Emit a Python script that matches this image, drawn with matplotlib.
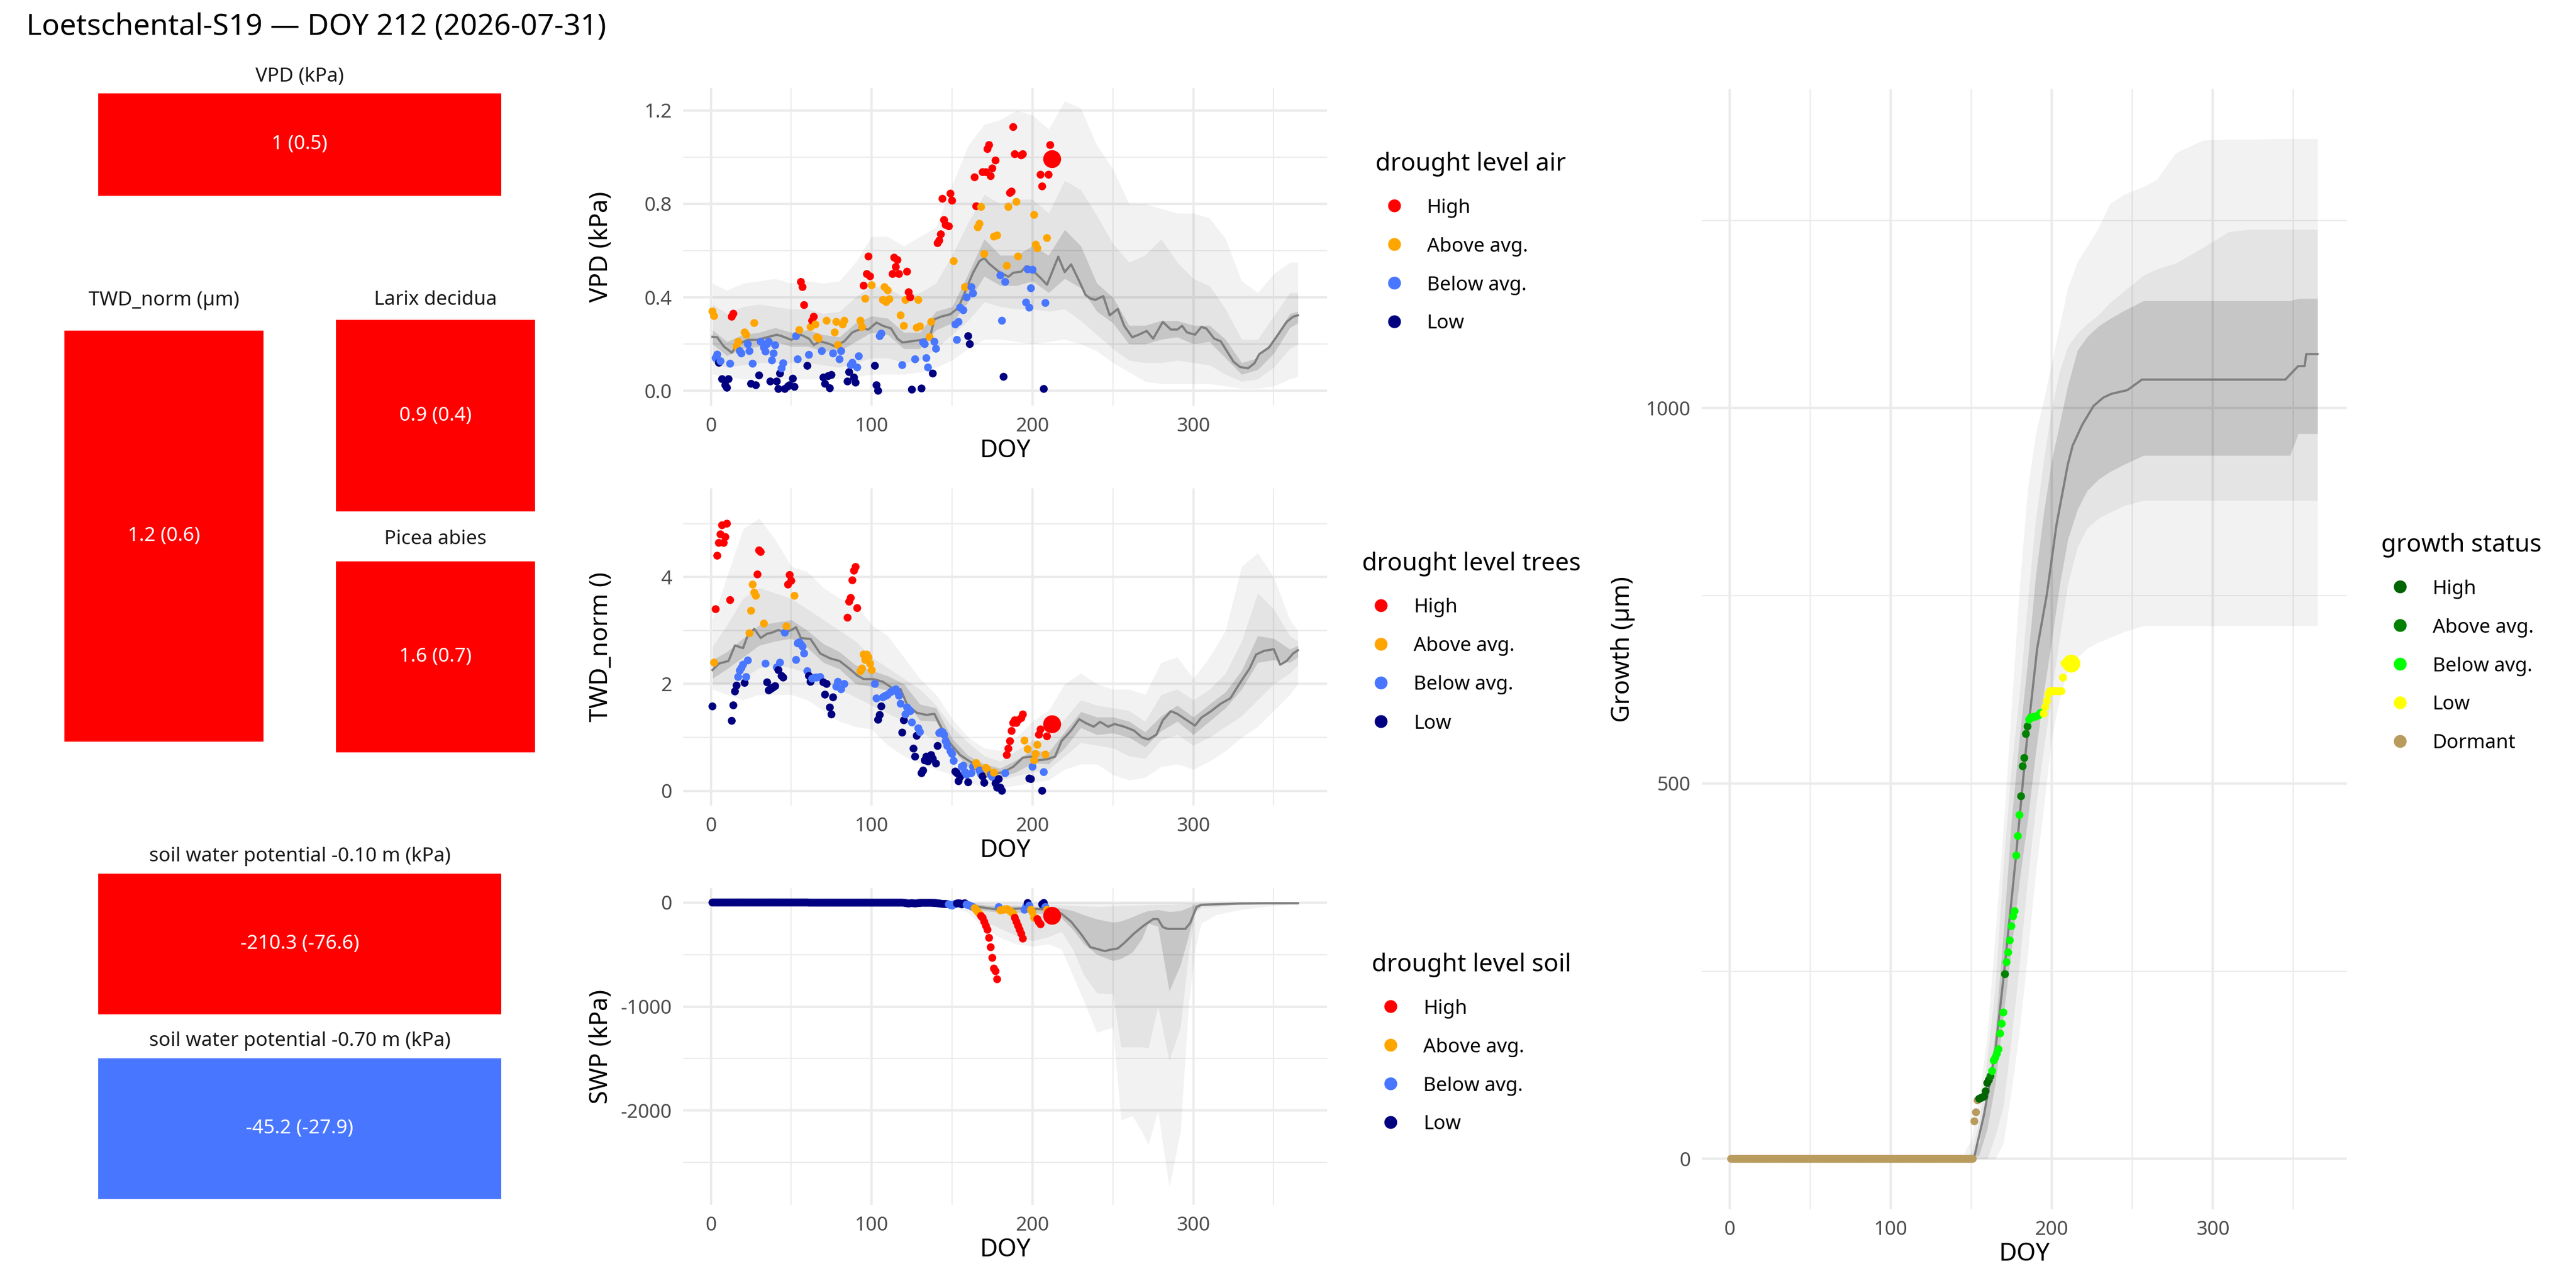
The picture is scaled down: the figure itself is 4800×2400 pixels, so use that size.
import matplotlib
matplotlib.use("Agg")
import matplotlib.pyplot as plt
from matplotlib.ticker import MultipleLocator, FormatStrFormatter

plt.rcParams['font.family'] = ['Noto Sans', 'DejaVu Sans']
plt.rcParams['axes.unicode_minus'] = False

# ---------------------------------------------------------------- data
title = "Loetschental-S19 \u2014 DOY 212 (2026-07-31)"

level_names = ["High", "Above avg.", "Below avg.", "Low"]
level_codes = ["H", "A", "B", "L"]
level_colors = {"H": "#FF0000", "A": "#FFA500", "B": "#4876FF", "L": "#000080"}
growth_names = ["High", "Above avg.", "Below avg.", "Low", "Dormant"]
growth_codes = ["H", "A", "B", "L", "D"]
growth_colors = {"H": "#006400", "A": "#008000", "B": "#00FF00", "L": "#FFFF00", "D": "#B99B5E"}

tile_labels = ["VPD (kPa)", "TWD_norm (\u00b5m)", "Larix decidua", "Picea abies",
               "soil water potential -0.10 m (kPa)", "soil water potential -0.70 m (kPa)"]
tile_value = [1, 1.2, 0.9, 1.6, -210.3, -45.2]
tile_sd = [0.5, 0.6, 0.4, 0.7, -76.6, -27.9]
tile_level = ["H", "H", "H", "H", "H", "B"]

# ---- VPD
vpd_doy = [1, 2, 3, 4, 5, 6, 7, 9, 10, 11,
           12, 13, 14, 16, 17, 18, 19, 21, 22, 23,
           24, 25, 26, 27, 28, 30, 31, 33, 34, 35,
           36, 37, 38, 39, 40, 41, 42, 43, 44, 45,
           46, 48, 49, 51, 52, 53, 54, 55, 56, 57,
           58, 60, 61, 62, 63, 64, 65, 66, 67, 69,
           70, 71, 72, 73, 74, 75, 76, 77, 78, 79,
           80, 81, 82, 83, 85, 86, 87, 88, 89, 90,
           91, 92, 93, 94, 95, 96, 97, 98, 99, 100,
           102, 103, 104, 105, 106, 107, 108, 109, 110, 111,
           113, 114, 115, 116, 117, 118, 119, 120, 121, 122,
           123, 124, 125, 127, 128, 129, 130, 131, 132, 133,
           134, 135, 136, 137, 138, 139, 140, 141, 142, 143,
           144, 145, 146, 148, 149, 150, 151, 152, 153, 154,
           155, 157, 158, 159, 160, 161, 162, 163, 164, 165,
           166, 167, 168, 169, 170, 171, 172, 173, 174, 175,
           176, 177, 178, 180, 181, 182, 183, 184, 185, 186,
           187, 188, 189, 190, 191, 193, 194, 196, 197, 198,
           199, 200, 201, 202, 203, 205, 206, 207, 208, 209,
           210, 211, 212]
vpd_val = [0.34, 0.32, 0.14, 0.155, 0.12, 0.127, 0.05, 0.024, 0.013, 0.05,
           0.116, 0.317, 0.33, 0.19, 0.21, 0.17, 0.16, 0.25, 0.24, 0.20,
           0.17, 0.03, 0.116, 0.29, 0.024, 0.066, 0.21, 0.185, 0.168, 0.20,
           0.21, 0.04, 0.13, 0.16, 0.195, 0.04, 0.008, 0.074, 0.096, 0.118,
           0.008, 0.019, 0.024, 0.052, 0.017, 0.234, 0.135, 0.26, 0.466, 0.444,
           0.367, 0.107, 0.154, 0.273, 0.30, 0.317, 0.284, 0.229, 0.223, 0.17,
           0.057, 0.03, 0.30, 0.063, 0.011, 0.068, 0.16, 0.25, 0.295, 0.196,
           0.135, 0.17, 0.284, 0.30, 0.04, 0.08, 0.11, 0.12, 0.057, 0.035,
           0.10, 0.148, 0.30, 0.273, 0.45, 0.394, 0.50, 0.575, 0.49, 0.452,
           0.107, 0.024, 0.0, 0.234, 0.245, 0.389, 0.444, 0.38, 0.43, 0.392,
           0.50, 0.57, 0.53, 0.56, 0.50, 0.323, 0.11, 0.278, 0.389, 0.51,
           0.422, 0.40, 0.005, 0.135, 0.27, 0.389, 0.276, 0.01, 0.207, 0.20,
           0.14, 0.10, 0.23, 0.295, 0.074, 0.21, 0.18, 0.632, 0.643, 0.67,
           0.822, 0.731, 0.71, 0.704, 0.844, 0.814, 0.555, 0.284, 0.218, 0.295,
           0.356, 0.345, 0.444, 0.40, 0.234, 0.20, 0.444, 0.417, 0.914, 0.79,
           0.70, 0.715, 0.787, 0.936, 0.586, 0.936, 1.035, 1.052, 0.919, 0.952,
           0.66, 0.986, 0.665, 0.494, 0.30, 0.06, 0.466, 0.535, 0.787, 0.847,
           0.853, 1.129, 1.013, 0.809, 0.575, 1.008, 1.013, 0.378, 0.52, 0.356,
           0.439, 0.518, 0.753, 0.626, 0.61, 0.925, 0.875, 0.008, 0.376, 0.654,
           0.925, 1.052, 0.993]
vpd_cat = ("AABBLBLLLL" "BHHAABBAAB" "BLBALLBBBB" "BLBBBLLLBB" "LLLLLBBAHH"
           "HLBAHHAAAB" "LLALLLBAAA" "BBAALLBBLL" "BBAAHAHHHA" "LLLBBAAAAA"
           "HHHHHABAAH" "HHLBAAALBB" "BBAALBBHHH" "HHHHHHABBB" "BBABLLBBHH"
           "AAAHAHHHHH" "AHABBLBAAH" "HHHAAHHBBB" "BBAAAHHLBA" "HHH")

vpd_med_doy = [1, 4, 8, 13, 17, 23, 29, 35, 41, 44, 50, 56, 61, 64, 68, 74, 77, 83, 88, 94,
               98, 103, 107, 112, 116, 119, 125, 131, 136, 139, 143, 149, 154, 158, 163, 167, 170, 173, 179, 185,
               188, 193, 196, 200, 205, 209, 216, 220, 224, 229, 233, 236, 239, 244, 248, 253, 257, 262, 266, 271,
               275, 281, 286, 290, 293, 296, 301, 305, 308, 313, 317, 320, 325, 329, 334, 338, 341, 347, 352, 358,
               362, 365]
vpd_med = [0.231, 0.229, 0.19, 0.163, 0.20, 0.218, 0.218, 0.229, 0.24, 0.234, 0.218, 0.24, 0.223, 0.196, 0.212, 0.20, 0.19, 0.212, 0.25, 0.267,
           0.262, 0.292, 0.278, 0.267, 0.223, 0.207, 0.212, 0.218, 0.223, 0.306, 0.317, 0.328, 0.356, 0.422, 0.505, 0.555, 0.568, 0.544, 0.51, 0.488,
           0.505, 0.51, 0.533, 0.516, 0.483, 0.454, 0.574, 0.508, 0.541, 0.47, 0.41, 0.395, 0.389, 0.405, 0.323, 0.35, 0.278, 0.229, 0.24, 0.256,
           0.223, 0.295, 0.262, 0.262, 0.278, 0.25, 0.24, 0.273, 0.267, 0.223, 0.212, 0.179, 0.124, 0.102, 0.096, 0.118, 0.157, 0.185, 0.234, 0.295,
           0.317, 0.323]

band_doy = [1, 10, 20, 30, 40, 50, 60, 70, 80, 90, 100, 110, 120, 130, 140, 150, 160, 170, 180,
            190, 200, 210, 220, 230, 240, 250, 260, 270, 280, 290, 300, 310, 320, 330, 340, 350, 360, 365]
vpd_out_hi = [0.46, 0.43, 0.46, 0.47, 0.48, 0.46, 0.47, 0.46, 0.47, 0.55, 0.66, 0.66, 0.62, 0.66, 0.70, 0.88, 1.05, 1.14, 1.16,
              1.20, 1.18, 1.12, 1.24, 1.21, 1.05, 0.95, 0.80, 0.80, 0.78, 0.76, 0.76, 0.74, 0.65, 0.47, 0.42, 0.50, 0.55, 0.55]
vpd_out_lo = [0.07, 0.06, 0.05, 0.05, 0.05, 0.05, 0.05, 0.05, 0.05, 0.06, 0.07, 0.07, 0.07, 0.08, 0.10, 0.13, 0.18, 0.22, 0.22,
              0.21, 0.20, 0.21, 0.22, 0.20, 0.17, 0.12, 0.08, 0.04, 0.03, 0.03, 0.03, 0.03, 0.02, 0.01, 0.01, 0.02, 0.05, 0.06]
vpd_mid_hi = [0.37, 0.33, 0.36, 0.37, 0.36, 0.35, 0.35, 0.33, 0.34, 0.40, 0.45, 0.44, 0.40, 0.42, 0.46, 0.58, 0.72, 0.84, 0.80,
              0.82, 0.82, 0.76, 0.90, 0.86, 0.75, 0.63, 0.55, 0.58, 0.65, 0.55, 0.48, 0.45, 0.35, 0.22, 0.22, 0.32, 0.42, 0.42]
vpd_mid_lo = [0.12, 0.10, 0.11, 0.12, 0.12, 0.12, 0.12, 0.11, 0.10, 0.12, 0.14, 0.14, 0.12, 0.13, 0.18, 0.24, 0.30, 0.38, 0.36,
              0.35, 0.35, 0.34, 0.35, 0.30, 0.24, 0.18, 0.13, 0.12, 0.12, 0.13, 0.12, 0.11, 0.07, 0.04, 0.05, 0.10, 0.18, 0.20]
vpd_in_hi = [0.26, 0.21, 0.24, 0.25, 0.27, 0.25, 0.26, 0.24, 0.23, 0.29, 0.32, 0.31, 0.25, 0.25, 0.34, 0.36, 0.50, 0.65, 0.58,
             0.58, 0.62, 0.58, 0.69, 0.62, 0.46, 0.40, 0.28, 0.28, 0.30, 0.30, 0.28, 0.28, 0.22, 0.12, 0.14, 0.22, 0.33, 0.34]
vpd_in_lo = [0.20, 0.15, 0.18, 0.19, 0.21, 0.19, 0.19, 0.17, 0.17, 0.21, 0.25, 0.24, 0.18, 0.18, 0.26, 0.29, 0.38, 0.49, 0.45,
             0.45, 0.47, 0.42, 0.48, 0.44, 0.34, 0.29, 0.20, 0.20, 0.22, 0.23, 0.20, 0.21, 0.14, 0.07, 0.09, 0.16, 0.27, 0.29]

# ---- TWD_norm
twd_doy = [1, 2, 3, 4, 5, 6, 7, 8, 9, 10,
           12, 13, 14, 15, 16, 17, 18, 19, 20, 21,
           22, 23, 24, 25, 26, 27, 28, 29, 30, 31,
           33, 34, 35, 36, 37, 38, 39, 40, 41, 42,
           43, 44, 45, 46, 47, 48, 49, 50, 52, 53,
           54, 55, 56, 57, 58, 60, 61, 62, 63, 65,
           66, 68, 70, 71, 72, 74, 75, 76, 78, 79,
           81, 83, 85, 86, 87, 88, 89, 90, 91, 93,
           94, 95, 96, 97, 98, 99, 100, 102, 103, 104,
           105, 106, 107, 108, 109, 110, 112, 113, 115, 116,
           117, 118, 119, 120, 121, 122, 123, 124, 125, 126,
           127, 128, 129, 130, 131, 132, 133, 134, 135, 136,
           137, 138, 140, 141, 142, 143, 144, 145, 146, 147,
           149, 150, 151, 152, 153, 154, 155, 156, 157, 158,
           159, 160, 162, 163, 165, 166, 167, 168, 169, 170,
           171, 172, 173, 174, 175, 176, 177, 178, 179, 180,
           181, 183, 184, 185, 186, 187, 188, 189, 190, 191,
           193, 194, 195, 197, 198, 199, 200, 201, 202, 203,
           204, 205, 206, 207, 208, 209, 210, 211, 212]
twd_val = [1.58, 2.40, 3.40, 4.40, 4.64, 4.80, 4.97, 4.64, 4.75, 5.00,
           3.57, 1.31, 1.60, 1.86, 1.97, 2.13, 2.25, 2.30, 2.36, 2.02,
           2.13, 2.44, 2.95, 3.37, 3.86, 3.71, 3.65, 4.05, 4.50, 4.47,
           3.13, 2.38, 2.03, 1.88, 1.90, 1.92, 1.94, 1.96, 2.31, 2.26,
           2.40, 2.15, 2.12, 2.96, 3.08, 3.86, 4.04, 3.93, 3.65, 2.45,
           2.76, 2.78, 2.74, 2.70, 2.57, 2.24, 2.15, 2.04, 2.10, 2.12,
           2.12, 2.13, 2.03, 1.80, 2.00, 1.56, 1.43, 1.75, 1.95, 2.04,
           1.90, 2.00, 3.24, 3.54, 3.61, 3.94, 4.12, 4.19, 3.42, 2.24,
           2.29, 2.55, 2.45, 2.55, 2.50, 2.38, 2.26, 2.00, 1.73, 1.33,
           1.42, 1.58, 1.75, 1.77, 1.78, 1.80, 1.85, 1.87, 1.90, 1.85,
           1.78, 1.63, 1.09, 1.32, 1.43, 1.56, 1.52, 1.49, 1.28, 0.79,
           0.64, 1.03, 1.17, 1.10, 0.33, 0.38, 0.57, 0.64, 0.55, 0.62,
           0.67, 0.60, 0.51, 0.84, 1.08, 1.10, 1.10, 1.05, 0.93, 0.84,
           0.74, 0.69, 0.56, 0.36, 0.33, 0.18, 0.26, 0.45, 0.47, 0.35,
           0.30, 0.16, 0.33, 0.45, 0.52, 0.45, 0.38, 0.31, 0.27, 0.15,
           0.43, 0.40, 0.33, 0.30, 0.26, 0.34, 0.14, 0.06, 0.22, 0.06,
           0.00, 0.33, 0.67, 0.79, 0.93, 1.12, 1.27, 1.32, 1.27, 1.32,
           1.36, 1.43, 0.94, 0.78, 0.23, 0.22, 0.45, 0.57, 0.69, 0.86,
           1.05, 1.15, 0.00, 0.35, 0.68, 1.02, 1.17, 1.33, 1.25]
twd_cat = ("LAHHHHHHHH" "HLLLLBBBBL" "BBAAAAAHHH" "ABLLLLLLBL" "BLLBAHHHAB"
           "BBBBBBLLBB" "BBLLLLLLBB" "BBHHHHHHHA" "AAAAAAABBL" "LLBBBBBBBB"
           "BBLLBBBBBL" "LLBBLLLLLL" "LLLLBBBBBB" "BBBLLLLBBB" "BLBBAABBLL"
           "AAABBALLLL" "LBHHHHHHHH" "HHAALLBAAA" "HHLBAHHHH")

twd_med_doy = [1, 5, 11, 15, 20, 23, 27, 31, 35, 38, 42, 46, 50, 53, 56, 62, 68, 74, 80, 86,
               91, 95, 101, 107, 113, 118, 122, 128, 134, 139, 143, 149, 155, 161, 167, 173, 178, 182, 188, 194,
               199, 203, 209, 214, 218, 224, 229, 233, 238, 242, 247, 251, 257, 263, 268, 272, 277, 281, 286, 290,
               296, 301, 305, 311, 317, 323, 329, 335, 339, 344, 350, 354, 358, 362, 365]
twd_med = [2.26, 2.38, 2.43, 2.72, 2.67, 2.91, 3.03, 2.86, 2.94, 2.96, 3.01, 2.96, 3.01, 3.06, 2.86, 2.84, 2.57, 2.48, 2.43, 2.29,
           2.16, 2.09, 2.09, 2.04, 1.92, 1.90, 1.61, 1.46, 1.42, 1.44, 1.20, 0.88, 0.67, 0.55, 0.45, 0.38, 0.33, 0.35, 0.45, 0.62,
           0.64, 0.57, 0.59, 0.64, 0.93, 1.13, 1.34, 1.27, 1.20, 1.29, 1.20, 1.25, 1.20, 1.13, 1.00, 0.96, 1.05, 1.32, 1.49, 1.44,
           1.32, 1.22, 1.37, 1.49, 1.63, 1.73, 2.02, 2.29, 2.55, 2.62, 2.65, 2.36, 2.43, 2.57, 2.63]

twd_out_hi = [3.2, 4.0, 4.9, 5.1, 4.7, 4.2, 4.1, 3.8, 3.6, 3.5, 3.1, 2.9, 2.5, 2.1, 1.8, 1.35, 1.0, 0.8, 0.75,
              1.0, 1.3, 1.5, 2.0, 2.2, 2.0, 1.9, 1.9, 1.8, 2.4, 2.5, 2.1, 2.5, 3.0, 4.2, 4.45, 4.0, 3.2, 3.0]
twd_out_lo = [1.9, 1.8, 1.7, 1.8, 1.8, 1.8, 1.7, 1.5, 1.3, 1.2, 1.15, 0.85, 0.65, 0.5, 0.4, 0.3, 0.15, 0.08, 0.05,
              0.1, 0.15, 0.2, 0.4, 0.5, 0.5, 0.3, 0.2, 0.25, 0.45, 0.5, 0.4, 0.55, 0.75, 1.0, 1.2, 1.5, 1.8, 2.0]
twd_mid_hi = [2.7, 3.1, 3.6, 3.8, 3.7, 3.6, 3.4, 3.2, 3.0, 2.8, 2.5, 2.3, 2.1, 1.9, 1.6, 1.2, 0.9, 0.65, 0.55,
              0.75, 0.95, 0.95, 1.35, 1.7, 1.6, 1.55, 1.5, 1.3, 1.8, 1.9, 1.7, 1.9, 2.2, 2.8, 3.7, 3.4, 2.9, 2.8]
twd_mid_lo = [2.0, 2.0, 2.1, 2.3, 2.35, 2.3, 2.2, 2.05, 1.9, 1.75, 1.6, 1.45, 1.3, 1.1, 0.95, 0.65, 0.4, 0.25, 0.2,
              0.28, 0.35, 0.4, 0.65, 0.9, 0.85, 0.8, 0.65, 0.6, 0.95, 1.05, 0.85, 1.0, 1.2, 1.4, 1.7, 2.0, 2.2, 2.35]
twd_in_hi = [2.45, 2.6, 2.85, 3.1, 3.15, 3.2, 3.0, 2.75, 2.6, 2.35, 2.25, 2.15, 2.0, 1.62, 1.55, 0.98, 0.66, 0.5, 0.42,
             0.58, 0.76, 0.72, 1.1, 1.48, 1.38, 1.38, 1.3, 1.1, 1.4, 1.6, 1.38, 1.62, 1.85, 2.25, 2.9, 2.85, 2.65, 2.72]
twd_in_lo = [2.1, 2.28, 2.5, 2.72, 2.8, 2.85, 2.68, 2.4, 2.28, 2.0, 1.95, 1.88, 1.72, 1.32, 1.3, 0.78, 0.45, 0.3, 0.25,
             0.35, 0.52, 0.5, 0.8, 1.18, 1.05, 1.08, 1.0, 0.82, 1.12, 1.3, 1.05, 1.3, 1.55, 1.9, 2.4, 2.45, 2.4, 2.5]

# ---- SWP (daily, DOY 1..212)
swp_doy = list(range(1, 213))
swp_val = [-1, -1, -1, -1, -1, -1, -1, -1, -1, -1, -1, -1, -1, -1, -1, -1, -1, -1, -1, -1,
           -1, -1, -1, -1, -1, -1, -1, -1, -1, -1, -1, -1, -1, -1, -1, -1, -1, -1, -1, -1,
           -1, -1, -1, -1, -1, -1, -1, -1, -1, -1, -1, -1, -1, -1, -1, -1, -1, -1, -1, -1,
           -2, -2, -2, -2, -2, -2, -2, -2, -2, -2, -2, -2, -2, -2, -2, -2, -2, -2, -2, -2,
           -2, -2, -2, -2, -2, -2, -2, -2, -2, -2, -2, -2, -2, -2, -2, -2, -2, -2, -2, -2,
           -2, -2, -2, -2, -2, -2, -2, -2, -2, -2, -2, -2, -2, -2, -2, -2, -2, -2, -2, -3,
           -5, -8, -10, -8, -6, -8, -10, -8, -6, -5, -3, -3, -3, -3, -3, -3, -3, -4, -5, -6,
           -8, -10, -12, -14, -14, -15, -16,
           -18, -25, -30, -20, -15, -10, -8, -10, -18, -12, -8, -20, -25, -30, -38, -44,
           -55, -70, -90, -108, -130, -147, -185, -224, -262, -340, -430, -532, -635, -660, -738,
           -44, -75, -72, -70, -66, -64, -72, -82, -95, -108, -147, -185, -224, -262, -300, -347,
           -70, -40, -5, -30, -70, -95, -147, -150, -160, -190, -210, -18, -5, -44, -70, -90, -108, -126]
swp_cat = ("LLLLLLLLLLLLLLLLLLLLLLLLLLLLLLLLLLLLLLLLLLLLLLLLLL"
           "LLLLLLLLLLLLLLLLLLLLLLLLLLLLLLLLLLLLLLLLLLLLLLLLLL"
           "LLLLLLLLLLLLLLLLLLLLLLLLLLLLLLLLLLLLLLLLLLLLLLL"
           "BBBBB" "LLLLLL" "BBBBB" "AAAA" "HHHHHHHHHHH" "B" "AAAAAAAAA" "HHHHHH"
           "BB" "L" "B" "AAAA" "HHH" "LL" "B" "AA" "HH")

swp_med_doy = [1, 140, 150, 160, 167, 179, 194, 205, 212, 218, 224, 230, 236, 239, 245, 248, 253, 257, 263, 269,
               275, 278, 281, 284, 290, 295, 298, 302, 305, 314, 329, 344, 365]
swp_med = [-1, -2, -5, -20, -44, -70, -57, -64, -70, -108, -185, -300, -430, -442, -468, -455, -442, -390, -300, -224,
           -160, -160, -237, -254, -254, -254, -198, -44, -23, -18, -10, -8, -8]

swp_band_doy = [1, 50, 100, 140, 150, 160, 170, 180, 190, 200, 210, 218, 225, 232, 240, 250, 255, 262, 268, 272,
                278, 285, 292, 297, 301, 305, 314, 329, 345, 365]
swp_out_hi = [0, 0, 0, 0, 0, 0, 0, 0, 0, 0, 0, 0, 0, 0, 0, 0, 0, 0, 0, 0,
              0, 0, 0, 0, 0, 0, 0, 0, 0, 0]
swp_out_lo = [-3, -3, -5, -8, -20, -100, -250, -340, -400, -420, -400, -450, -700, -950, -1250, -1200, -2090, -2050, -2200, -2330,
              -2000, -2740, -2200, -1000, -450, -200, -120, -70, -40, -10]
swp_mid_hi = [0, 0, 0, 0, 0, -3, -10, -15, -18, -20, -22, -25, -30, -35, -40, -35, -30, -28, -25, -22,
              -20, -20, -15, -10, -8, -5, -3, -2, -1, 0]
swp_mid_lo = [-2, -2, -3, -5, -12, -60, -180, -250, -320, -370, -330, -280, -450, -700, -870, -880, -1390, -1390, -1390, -1400,
              -1000, -1520, -1200, -500, -100, -50, -40, -25, -15, -8]
swp_in_hi = [0, 0, 0, 0, -3, -8, -25, -35, -35, -40, -45, -55, -80, -120, -160, -190, -180, -140, -100, -80,
             -70, -90, -80, -50, -20, -10, -5, -3, -2, -1]
swp_in_lo = [-1, -1, -2, -3, -6, -20, -80, -95, -95, -100, -110, -150, -260, -400, -500, -560, -540, -480, -350, -200,
             -230, -850, -600, -320, -80, -30, -20, -12, -8, -5]

# ---- Growth (daily, DOY 1..212)
gro_doy = list(range(1, 213))
gro_val = [0, 0, 0, 0, 0, 0, 0, 0, 0, 0, 0, 0, 0, 0, 0, 0, 0, 0, 0, 0, 0, 0, 0, 0, 0,
           0, 0, 0, 0, 0, 0, 0, 0, 0, 0, 0, 0, 0, 0, 0, 0, 0, 0, 0, 0, 0, 0, 0, 0, 0,
           0, 0, 0, 0, 0, 0, 0, 0, 0, 0, 0, 0, 0, 0, 0, 0, 0, 0, 0, 0, 0, 0, 0, 0, 0,
           0, 0, 0, 0, 0, 0, 0, 0, 0, 0, 0, 0, 0, 0, 0, 0, 0, 0, 0, 0, 0, 0, 0, 0, 0,
           0, 0, 0, 0, 0, 0, 0, 0, 0, 0, 0, 0, 0, 0, 0, 0, 0, 0, 0, 0, 0, 0, 0, 0, 0,
           0, 0, 0, 0, 0, 0, 0, 0, 0, 0, 0, 0, 0, 0, 0, 0, 0, 0, 0, 0, 0, 0, 0, 0, 0,
           0,
           50, 62, 78,
           80, 81, 82, 83, 90, 101, 105,
           110,
           117, 131, 135, 140, 146, 167, 180, 195,
           246,
           262, 275, 291, 310, 323, 330, 404, 430, 458,
           483, 523, 534, 566, 576,
           585, 588, 588, 589, 589, 590, 591, 594, 594,
           593, 602, 610, 619, 623, 623, 623, 623, 623, 623, 623, 623, 641, 660, 660, 660, 660, 660]
gro_cat = ("DDDDDDDDDDDDDDDDDDDDDDDDDDDDDDDDDDDDDDDDDDDDDDDDDD"
           "DDDDDDDDDDDDDDDDDDDDDDDDDDDDDDDDDDDDDDDDDDDDDDDDDD"
           "DDDDDDDDDDDDDDDDDDDDDDDDDDDDDDDDDDDDDDDDDDDDDDDDDD"
           "DDDD" "HHHHHHH" "A" "BBBBBBBB" "A" "BBBBBBBBB" "AAAAA" "BBBBBBBBB"
           "LLLLLLLLLLLLLLLLLL")

gro_med_doy = [1, 150, 152, 158, 165, 171, 178, 184, 191, 197, 203, 210, 213, 219, 226, 232, 237, 247, 256, 345,
               353, 357, 358, 365]
gro_med = [0, 0, 3, 59, 143, 259, 407, 545, 680, 752, 845, 925, 950, 978, 1003, 1014, 1019, 1024, 1038, 1038,
           1056, 1056, 1072, 1072]

gro_band_doy = [1, 100, 140, 145, 150, 155, 160, 165, 170, 175, 180, 185, 190, 195, 200, 205, 210, 216, 222, 229,
                236, 245, 257, 265, 277, 294, 310, 323, 340, 348, 353, 358, 365]
gro_out_hi = [0, 0, 0, 5, 25, 80, 165, 300, 440, 600, 760, 890, 965, 1010, 1060, 1110, 1160, 1195, 1215, 1240,
              1272, 1285, 1295, 1304, 1340, 1357, 1358, 1358, 1359, 1359, 1359, 1359, 1359]
gro_out_lo = [0, 0, 0, 0, 0, 0, 0, 0, 20, 90, 170, 270, 380, 467, 560, 614, 650, 668, 680, 688,
              694, 702, 710, 710, 710, 710, 710, 710, 710, 710, 710, 710, 710]
gro_mid_hi = [0, 0, 0, 0, 8, 50, 133, 230, 390, 520, 620, 740, 850, 930, 1000, 1050, 1082, 1100, 1112, 1124,
              1140, 1156, 1177, 1185, 1193, 1214, 1235, 1238, 1238, 1238, 1238, 1238, 1238]
gro_mid_lo = [0, 0, 0, 0, 0, 0, 0, 30, 70, 160, 259, 370, 467, 545, 620, 695, 765, 815, 840, 853,
              861, 870, 877, 877, 877, 877, 877, 877, 877, 877, 877, 877, 877]
gro_in_hi = [0, 0, 0, 0, 2, 20, 85, 170, 300, 450, 560, 660, 775, 860, 930, 980, 1030, 1077, 1095, 1109,
             1119, 1130, 1143, 1143, 1143, 1143, 1143, 1143, 1143, 1143, 1146, 1146, 1146]
gro_in_lo = [0, 0, 0, 0, 0, 5, 40, 100, 190, 280, 370, 450, 540, 620, 690, 765, 825, 865, 890, 905,
             915, 925, 937, 937, 937, 937, 937, 937, 937, 937, 966, 966, 966]

# ---------------------------------------------------------------- layout
W, H = 4800, 2400
fig = plt.figure(figsize=(16, 8), dpi=300)


def fr(x0, y0, x1, y1):
    return [x0 / W, 1 - y1 / H, (x1 - x0) / W, (y1 - y0) / H]


GRID = '#EBEBEB'
TICKC = '#4D4D4D'
XLIM = (-17.2, 383.2)


def style(ax, ylim, ymaj, ymin, yfmt, ylabel, ylab_x):
    ax.set_facecolor('none')
    ax.set_xlim(*XLIM)
    ax.set_ylim(*ylim)
    ax.xaxis.set_major_locator(MultipleLocator(100))
    ax.xaxis.set_minor_locator(MultipleLocator(50))
    ax.yaxis.set_major_locator(MultipleLocator(ymaj))
    ax.yaxis.set_minor_locator(MultipleLocator(ymin))
    ax.xaxis.set_major_formatter(FormatStrFormatter('%d'))
    ax.yaxis.set_major_formatter(FormatStrFormatter(yfmt))
    ax.grid(which='major', color=GRID, lw=1.07)
    ax.grid(which='minor', color=GRID, lw=0.53)
    ax.set_axisbelow(True)
    for s in ax.spines.values():
        s.set_visible(False)
    ax.tick_params(which='both', length=0, labelsize=8.8, labelcolor=TICKC, pad=5)
    ax.set_xlabel('DOY', fontsize=11, labelpad=1)
    ax.set_ylabel(ylabel, fontsize=11)
    ax.yaxis.set_label_coords(ylab_x, 0.5)


def bands(ax, bdoy, out_lo, out_hi, mid_lo, mid_hi, in_lo, in_hi, mdoy, med):
    ax.fill_between(bdoy, out_lo, out_hi, color='black', alpha=0.05, lw=0)
    ax.fill_between(bdoy, mid_lo, mid_hi, color='black', alpha=0.055, lw=0)
    ax.fill_between(bdoy, in_lo, in_hi, color='black', alpha=0.13, lw=0)
    ax.plot(mdoy, med, color='#7F7F7F', lw=1.0)


def points(ax, doy, val, cat, cmap, s=12.5, s_big=64):
    cols = [cmap[c] for c in cat]
    ax.scatter(doy[:-1], val[:-1], c=cols[:-1], s=s, lw=0, zorder=3)
    ax.scatter(doy[-1:], val[-1:], c=cols[-1:], s=s_big, lw=0, zorder=4)


# VPD panel
ax1 = fig.add_axes(fr(1273, 164, 2473, 756))
bands(ax1, band_doy, vpd_out_lo, vpd_out_hi, vpd_mid_lo, vpd_mid_hi, vpd_in_lo, vpd_in_hi, vpd_med_doy, vpd_med)
points(ax1, vpd_doy, vpd_val, vpd_cat, level_colors)
style(ax1, (-0.064, 1.296), 0.4, 0.2, '%.1f', 'VPD (kPa)', -0.108)

# TWD panel
ax2 = fig.add_axes(fr(1273, 910, 2473, 1501))
bands(ax2, band_doy, twd_out_lo, twd_out_hi, twd_mid_lo, twd_mid_hi, twd_in_lo, twd_in_hi, twd_med_doy, twd_med)
points(ax2, twd_doy, twd_val, twd_cat, level_colors)
style(ax2, (-0.276, 5.66), 2, 1, '%d', 'TWD_norm ()', -0.108)

# SWP panel
ax3 = fig.add_axes(fr(1273, 1655, 2473, 2245))
bands(ax3, swp_band_doy, swp_out_lo, swp_out_hi, swp_mid_lo, swp_mid_hi, swp_in_lo, swp_in_hi, swp_med_doy, swp_med)
points(ax3, swp_doy, swp_val, swp_cat, level_colors)
style(ax3, (-2905, 137), 1000, 500, '%d', 'SWP (kPa)', -0.108)

# Growth panel
ax4 = fig.add_axes(fr(3171, 166, 4373, 2253))
bands(ax4, gro_band_doy, gro_out_lo, gro_out_hi, gro_mid_lo, gro_mid_hi, gro_in_lo, gro_in_hi, gro_med_doy, gro_med)
points(ax4, gro_doy, gro_val, gro_cat, growth_colors)
style(ax4, (-67, 1425), 500, 250, '%d', 'Growth (\u00b5m)', -0.103)

# tiles
tile_boxes = [(183, 174, 934, 365), (120, 616, 491, 1382), (626, 596, 997, 953),
              (626, 1046, 997, 1402), (183, 1628, 934, 1890), (183, 1972, 934, 2234)]
tile_title_y = [139, 555, 555, 1001, 1591, 1935]
for box, lab, v, sd, lv, ty in zip(tile_boxes, tile_labels, tile_value, tile_sd, tile_level, tile_title_y):
    ta = fig.add_axes(fr(*box))
    ta.set_facecolor(level_colors[lv])
    ta.set_xticks([])
    ta.set_yticks([])
    for s in ta.spines.values():
        s.set_visible(False)
    ta.text(0.5, 0.5, f"{v:g} ({sd:g})", ha='center', va='center', color='white',
            fontsize=8.8, transform=ta.transAxes)

# overlay for texts / legends
ov = fig.add_axes([0, 0, 1, 1])
ov.set_xlim(0, W)
ov.set_ylim(H, 0)
ov.axis('off')

ov.text(49, 65, title, fontsize=13.2, va='baseline', ha='left', color='black')
for box, lab, ty in zip(tile_boxes, tile_labels, tile_title_y):
    ov.text((box[0] + box[2]) / 2, ty, lab, fontsize=8.8, ha='center', va='center_baseline', color='#1A1A1A')


def legend(x, yb, ttl, names, codes, cmap):
    ov.text(x, yb, ttl, fontsize=11, va='baseline', ha='left')
    for i, (n, c) in enumerate(zip(names, codes)):
        y = yb + 65 + 72 * i
        ov.scatter([x + 35], [y], s=33, color=cmap[c], lw=0)
        ov.text(x + 96, y, n, fontsize=8.8, va='center_baseline', ha='left')


legend(2563, 318, 'drought level air', level_names, level_codes, level_colors)
legend(2538, 1063, 'drought level trees', level_names, level_codes, level_colors)
legend(2556, 1810, 'drought level soil', level_names, level_codes, level_colors)
legend(4437, 1028, 'growth status', growth_names, growth_codes, growth_colors)

fig.savefig('out.png', dpi=300)
